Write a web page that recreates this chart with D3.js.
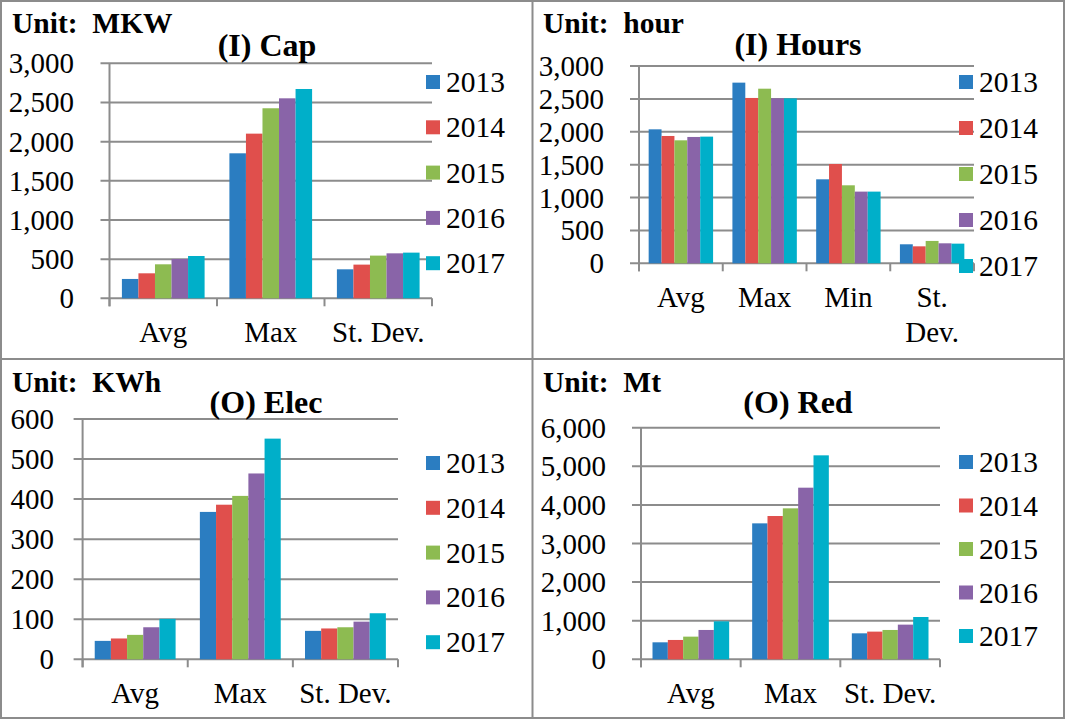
<!DOCTYPE html>
<html lang="en">
<head>
  <meta charset="UTF-8">
  <title>Cap, Hours, Elec, Red</title>
  <script src="https://d3js.org/d3.v7.min.js"></script>
  <style>
    body { margin: 0; background: #fff; }
    svg { display: block; font-family: "Liberation Serif", "Times New Roman", serif; }
  </style>
</head>
<body>
  <script>
    // Series
    const years = ['2013', '2014', '2015', '2016', '2017'];
    const yearColors = ['#2b7dc1', '#e04f4c', '#8dbb51', '#8964a8', '#00afc9'];

    // (I) Cap, MKW — rows are categories, columns are years
    const capCategories = ['Avg', 'Max', 'St. Dev.'];
    const capValues = [
      [247, 319, 434, 502, 540],
      [1851, 2102, 2426, 2553, 2672],
      [370, 430, 545, 574, 583]
    ];
    const capTicks = [0, 500, 1000, 1500, 2000, 2500, 3000];

    // (I) Hours, hour
    const hoursCategories = ['Avg', 'Max', 'Min', 'St. Dev.'];
    const hoursValues = [
      [2037, 1936, 1870, 1921, 1926],
      [2747, 2514, 2655, 2508, 2508],
      [1277, 1510, 1186, 1090, 1090],
      [289, 258, 340, 304, 299]
    ];
    const hoursTicks = [0, 500, 1000, 1500, 2000, 2500, 3000];

    // (O) Elec, KWh
    const elecCategories = ['Avg', 'Max', 'St. Dev.'];
    const elecValues = [
      [46, 52, 61, 80, 101],
      [368, 386, 408, 464, 551],
      [71, 77, 80, 94, 115]
    ];
    const elecTicks = [0, 100, 200, 300, 400, 500, 600];

    // (O) Red, Mt
    const redCategories = ['Avg', 'Max', 'St. Dev.'];
    const redValues = [
      [440, 501, 587, 760, 984],
      [3522, 3712, 3911, 4446, 5284],
      [673, 717, 760, 898, 1096]
    ];
    const redTicks = [0, 1000, 2000, 3000, 4000, 5000, 6000];

    const W = 1065, H = 719;
    const gridColor = '#8c8c8c';
    const fmt = d3.format(',');

    const svg = d3.select('body').append('svg')
      .attr('width', W)
      .attr('height', H);

    svg.append('rect')
      .attr('width', W)
      .attr('height', H)
      .attr('fill', '#fff');

    // panel layout (pixels)
    const panels = [
      { title: '(I) Cap', unit: 'Unit:  MKW', categories: capCategories, values: capValues, ticks: capTicks,
        left: 109.5, right: 432, top: 63.3, bottom: 298.3, labelRight: 74,
        titleX: 267, titleY: 56, unitX: 12, unitY: 33,
        legendX: 426, legendY: 82, legendStep: 45.3, wrap: false },
      { title: '(I) Hours', unit: 'Unit:  hour', categories: hoursCategories, values: hoursValues, ticks: hoursTicks,
        left: 639, right: 974, top: 66, bottom: 263.3, labelRight: 604,
        titleX: 798, titleY: 55, unitX: 543, unitY: 33,
        legendX: 959, legendY: 82, legendStep: 46, wrap: true },
      { title: '(O) Elec', unit: 'Unit:  KWh', categories: elecCategories, values: elecValues, ticks: elecTicks,
        left: 82.6, right: 398, top: 419, bottom: 659.3, labelRight: 54,
        titleX: 266, titleY: 413, unitX: 12, unitY: 392,
        legendX: 426, legendY: 463, legendStep: 44.8, wrap: false },
      { title: '(O) Red', unit: 'Unit:  Mt', categories: redCategories, values: redValues, ticks: redTicks,
        left: 641, right: 940, top: 427.7, bottom: 659.3, labelRight: 606,
        titleX: 798, titleY: 413, unitX: 543, unitY: 392,
        legendX: 959, legendY: 462, legendStep: 43.5, wrap: false }
    ];

    function drawPanel(p) {
      const g = svg.append('g');

      const y = d3.scaleLinear()
        .domain([0, d3.max(p.ticks)])
        .range([p.bottom, p.top]);

      const x0 = d3.scaleBand()
        .domain(p.categories)
        .range([p.left, p.right]);

      // gap width 150% like the spreadsheet default
      const x1 = d3.scaleBand()
        .domain(years)
        .range([0, x0.bandwidth()])
        .paddingOuter(0.75);

      // gridlines with left tick stubs
      g.selectAll('line.grid')
        .data(p.ticks)
        .join('line')
        .attr('class', 'grid')
        .attr('x1', p.left - 9)
        .attr('x2', p.right)
        .attr('y1', d => y(d))
        .attr('y2', d => y(d))
        .attr('stroke', gridColor)
        .attr('stroke-width', 2);

      g.selectAll('text.tick')
        .data(p.ticks)
        .join('text')
        .attr('class', 'tick')
        .attr('x', p.labelRight)
        .attr('y', d => y(d) + 10)
        .attr('text-anchor', 'end')
        .attr('font-size', 29)
        .text(d => fmt(d));

      // bars
      p.categories.forEach((cat, i) => {
        g.selectAll(null)
          .data(p.values[i])
          .join('rect')
          .attr('x', (d, j) => x0(cat) + x1(years[j]))
          .attr('y', d => y(d))
          .attr('width', x1.bandwidth())
          .attr('height', d => y(0) - y(d))
          .attr('fill', (d, j) => yearColors[j]);
      });

      // axes
      g.append('line')
        .attr('x1', p.left).attr('x2', p.left)
        .attr('y1', p.top).attr('y2', p.bottom + 8)
        .attr('stroke', gridColor)
        .attr('stroke-width', 2);

      const bounds = p.categories.map(c => x0(c)).concat([p.right]);
      g.selectAll('line.xtick')
        .data(bounds)
        .join('line')
        .attr('class', 'xtick')
        .attr('x1', d => d).attr('x2', d => d)
        .attr('y1', p.bottom).attr('y2', p.bottom + 8)
        .attr('stroke', gridColor)
        .attr('stroke-width', 2);

      p.categories.forEach(cat => {
        const lines = p.wrap ? cat.split(' ') : [cat];
        const t = g.append('text')
          .attr('x', x0(cat) + x0.bandwidth() / 2)
          .attr('y', p.bottom + 44)
          .attr('text-anchor', 'middle')
          .attr('font-size', 29);
        lines.forEach((s, k) => {
          t.append('tspan')
            .attr('x', x0(cat) + x0.bandwidth() / 2)
            .attr('dy', k === 0 ? 0 : 35)
            .text(s);
        });
      });

      // titles
      g.append('text')
        .attr('x', p.titleX)
        .attr('y', p.titleY)
        .attr('text-anchor', 'middle')
        .attr('font-size', 32)
        .attr('font-weight', 'bold')
        .text(p.title);

      g.append('text')
        .attr('x', p.unitX)
        .attr('y', p.unitY)
        .attr('font-size', 29.5)
        .attr('font-weight', 'bold')
        .attr('xml:space', 'preserve')
        .style('white-space', 'pre')
        .text(p.unit);

      // legend
      const leg = g.selectAll('g.leg')
        .data(years)
        .join('g')
        .attr('class', 'leg')
        .attr('transform', (d, j) => `translate(${p.legendX},${p.legendY + j * p.legendStep})`);

      leg.append('rect')
        .attr('x', 0).attr('y', -7)
        .attr('width', 14).attr('height', 14)
        .attr('fill', (d, j) => yearColors[j]);

      leg.append('text')
        .attr('x', 20)
        .attr('y', 10)
        .attr('font-size', 29.5)
        .text(d => d);
    }

    panels.forEach(drawPanel);

    // panel borders
    svg.append('rect')
      .attr('x', 1).attr('y', 1)
      .attr('width', W - 2).attr('height', H - 2)
      .attr('fill', 'none')
      .attr('stroke', gridColor)
      .attr('stroke-width', 2);

    svg.append('line')
      .attr('x1', 532.5).attr('x2', 532.5)
      .attr('y1', 0).attr('y2', H)
      .attr('stroke', gridColor)
      .attr('stroke-width', 2);

    svg.append('line')
      .attr('x1', 0).attr('x2', W)
      .attr('y1', 359).attr('y2', 359)
      .attr('stroke', gridColor)
      .attr('stroke-width', 2);
  </script>
</body>
</html>
